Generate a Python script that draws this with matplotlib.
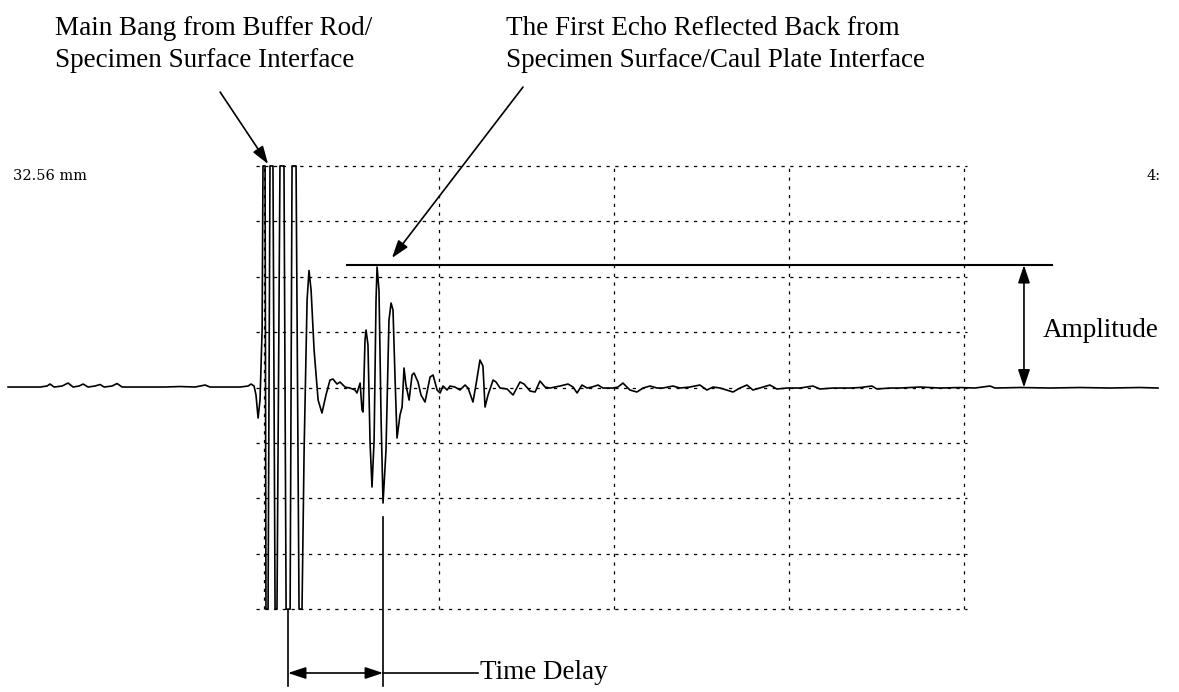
import numpy as np
import matplotlib
matplotlib.use("Agg")
import matplotlib.pyplot as plt

# oscilloscope trace, time and amplitude in screen divisions (clipped at +/-4)
pre_t = [-1.463, -1.280, -1.240, -1.223, -1.200, -1.154, -1.120, -1.091, -1.057, -1.034,
         -1.006, -0.966, -0.937, -0.914, -0.869, -0.840, -0.811, -0.766, -0.566, -0.480,
         -0.394, -0.337, -0.309, -0.137, -0.091, -0.074, -0.057, -0.046, -0.034, -0.023,
         -0.011]
pre_a = [0.009, 0.009, 0.027, 0.063, 0.009, 0.027, 0.081, 0.009, 0.027, 0.063,
         0.009, 0.027, 0.054, 0.009, 0.027, 0.072, 0.009, 0.009, 0.009, 0.018,
         0.009, 0.045, 0.009, 0.009, 0.027, 0.063, 0.027, -0.135, -0.551, -0.226,
         1.038]

bang_t = [-0.006, 0.006, 0.011, 0.023, 0.034, 0.051, 0.063, 0.074, 0.091, 0.114,
          0.126, 0.149, 0.160, 0.183, 0.200, 0.217, 0.229, 0.246, 0.257, 0.269,
          0.286, 0.309, 0.331, 0.354, 0.377, 0.394, 0.417, 0.434, 0.463, 0.491,
          0.520, 0.531]
bang_a = [4.0, 4.0, -4.0, -4.0, 4.0, 4.0, -4.0, -4.0, 4.0, 4.0,
          -4.0, -4.0, 4.0, 4.0, -4.0, -4.0, -1.128, 1.579, 2.112, 1.751,
          0.677, -0.226, -0.460, -0.135, 0.135, 0.153, 0.063, 0.099, 0.009, -0.009,
          -0.045, -0.099]

echo_t = [0.549, 0.560, 0.566, 0.577, 0.583, 0.594, 0.606, 0.617, 0.629, 0.640,
          0.646, 0.657, 0.669, 0.680, 0.697, 0.714, 0.726, 0.737, 0.749, 0.760,
          0.777, 0.789, 0.800, 0.811, 0.829, 0.846, 0.857, 0.880, 0.897, 0.920,
          0.949, 0.966, 0.989, 1.006, 1.023, 1.046, 1.063, 1.091, 1.120, 1.149,
          1.166, 1.194, 1.211, 1.234, 1.251, 1.263, 1.280, 1.309, 1.326, 1.349]
echo_a = [0.081, -0.406, -0.442, 0.857, 1.038, 0.767, -1.002, -1.796, -0.948, 1.579,
          2.175, 1.751, -0.587, -2.085, -1.128, 1.218, 1.525, 1.399, 0.135, -0.912,
          -0.496, -0.352, 0.352, 0.045, -0.226, 0.226, 0.262, 0.099, -0.135, -0.262,
          0.190, 0.226, -0.045, -0.099, 0.027, -0.045, 0.027, 0.009, -0.045, 0.045,
          -0.009, -0.262, 0.045, 0.496, 0.388, -0.352, -0.135, 0.135, 0.099, -0.009]

tail_t = [1.389, 1.423, 1.463, 1.486, 1.520, 1.549, 1.577, 1.606, 1.634, 1.691,
          1.737, 1.766, 1.789, 1.817, 1.846, 1.874, 1.909, 1.937, 1.994, 2.023,
          2.051, 2.091, 2.131, 2.166, 2.206, 2.246, 2.280, 2.337, 2.377, 2.434,
          2.491, 2.531, 2.566, 2.606, 2.680, 2.720, 2.760, 2.794, 2.851, 2.891,
          2.931, 2.989, 3.063, 3.137, 3.177, 3.251, 3.349, 3.406, 3.474, 3.503,
          3.577, 3.634, 3.749, 3.863, 3.977, 4.063, 4.149, 4.177, 4.320, 4.491,
          4.663, 4.834, 5.006, 5.109]
tail_a = [-0.027, -0.135, 0.099, 0.063, -0.063, -0.081, 0.117, 0.009, -0.009, 0.027,
          0.063, 0.009, -0.099, 0.045, -0.009, 0.009, 0.045, -0.009, -0.009, 0.009,
          0.081, -0.045, -0.081, -0.009, 0.027, -0.009, -0.009, 0.027, -0.009, 0.009,
          0.045, -0.045, 0.009, -0.009, -0.081, -0.009, 0.045, -0.045, 0.009, 0.045,
          -0.027, -0.009, -0.009, 0.027, -0.027, -0.009, -0.009, 0.0, 0.027, -0.027,
          -0.009, -0.009, 0.009, -0.009, 0.0, -0.009, 0.027, -0.009, 0.0, -0.009,
          0.0, -0.009, 0.0, -0.009]

# screen grid and markers
grid_t = [0, 1, 2, 3, 4]
grid_a = [-4, -3, -2, -1, 0, 1, 2, 3, 4]
echo_level = 2.21
bang_mark = 0.137
echo_mark = 0.680

t = np.concatenate([pre_t, bang_t, echo_t, tail_t])
a = np.concatenate([pre_a, bang_a, echo_a, tail_a])

serif = "Liberation Serif"
fs = 19.5
head = "head_length=0.6,head_width=0.2"

fig = plt.figure(figsize=(11.79, 6.92), dpi=100)
ax = fig.add_axes([0, 0, 1, 1])
ax.set_xlim(-1.509, 5.229)
ax.set_ylim(-5.496, 6.995)
ax.axis("off")

dash = (0, (2.6, 4.4))
for g in grid_a:
    ax.plot([-0.046, 4.017], [g, g], color="black", lw=0.9, ls=dash, zorder=1)
for g in grid_t:
    ax.plot([g, g], [-4, 4], color="black", lw=0.9, ls=dash, zorder=1)

ax.plot(t, a, color="black", lw=1.2, zorder=3)

# echo level and amplitude arrow
ax.plot([0.474, 4.503], [echo_level, echo_level], color="black", lw=1.5, zorder=4)
ax.annotate("", xy=(4.343, 0), xytext=(4.343, echo_level),
            arrowprops=dict(arrowstyle="<|-|>," + head, mutation_scale=18,
                            color="black", lw=1.2, shrinkA=0, shrinkB=0))
ax.text(4.451, 1.038, "Amplitude", fontsize=fs, family=serif, va="center", ha="left")

# time delay
ax.plot([bang_mark, bang_mark], [-4.016, -5.388], color="black", lw=1.2)
ax.plot([echo_mark, echo_mark], [-2.338, -5.388], color="black", lw=1.2)
ax.annotate("", xy=(bang_mark, -5.153), xytext=(echo_mark, -5.153),
            arrowprops=dict(arrowstyle="<|-|>," + head, mutation_scale=18,
                            color="black", lw=1.2, shrinkA=0, shrinkB=0))
ax.plot([echo_mark, 1.223], [-5.153, -5.153], color="black", lw=1.2)
ax.text(1.234, -5.153, "Time Delay", fontsize=fs, family=serif, va="center", ha="left")

# callouts
ax.annotate("", xy=(0.023, 4.034), xytext=(-0.251, 5.334),
            arrowprops=dict(arrowstyle="-|>," + head, mutation_scale=18,
                            color="black", lw=1.2, shrinkA=0, shrinkB=0))
ax.annotate("", xy=(0.731, 2.338), xytext=(1.480, 5.424),
            arrowprops=dict(arrowstyle="-|>," + head, mutation_scale=18,
                            color="black", lw=1.2, shrinkA=0, shrinkB=0))
ax.text(-1.194, 6.70, "Main Bang from Buffer Rod/\nSpecimen Surface Interface",
        fontsize=fs, family=serif, va="top", ha="left", linespacing=1.35)
ax.text(1.383, 6.70, "The First Echo Reflected Back from\nSpecimen Surface/Caul Plate Interface",
        fontsize=fs, family=serif, va="top", ha="left", linespacing=1.35)

ax.text(-1.434, 3.818, "32.56 mm", fontsize=10.5, family="DejaVu Serif", va="center", ha="left")
ax.text(5.046, 3.818, "4:", fontsize=10.5, family="DejaVu Serif", va="center", ha="left")

fig.savefig("out.png", dpi=100)
